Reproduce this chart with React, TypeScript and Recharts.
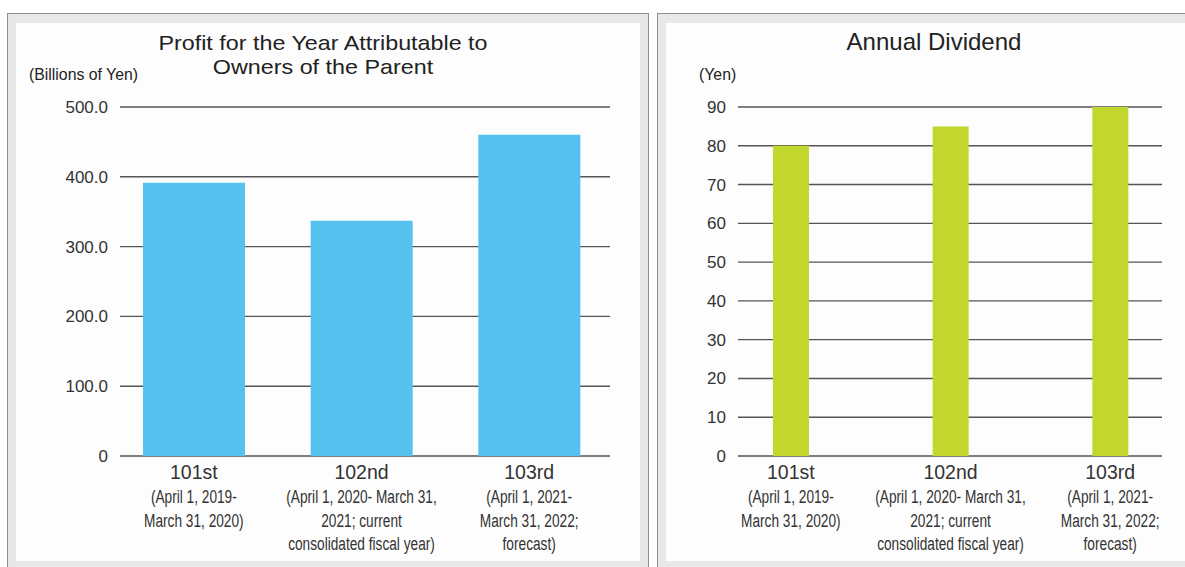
import { Bar, BarChart, CartesianGrid, XAxis, YAxis } from "recharts";

const categories = ["101st", "102nd", "103rd"];
const periodLines = [
  ["(April 1, 2019-", "March 31, 2020)"],
  ["(April 1, 2020- March 31,", "2021; current", "consolidated fiscal year)"],
  ["(April 1, 2021-", "March 31, 2022;", "forecast)"],
];
const profitValues = [391.6, 336.9, 460.2];
const dividendValues = [80, 85, 90];
const profitTicks = [0, 100, 200, 300, 400, 500];
const dividendTicks = [0, 10, 20, 30, 40, 50, 60, 70, 80, 90];

const profitData = categories.map((name, i) => ({ name, value: profitValues[i] }));
const dividendData = categories.map((name, i) => ({ name, value: dividendValues[i] }));

const SANS = "'Liberation Sans', Arial, Helvetica, sans-serif";
const TEXT = "#333";
const GRID = "#555";

// period text is set in a condensed face in the original; squeeze Liberation Sans
function CategoryTick(props: any) {
  const { x, y, payload } = props;
  const idx = categories.indexOf(payload.value);
  const lines = periodLines[idx] || [];
  return (
    <g transform={`translate(${x},${y})`}>
      <text textAnchor="middle" y={23} fill={TEXT} fontSize={19.5} fontFamily={SANS}>
        {payload.value}
      </text>
      {lines.map((l, i) => (
        <text
          key={i}
          textAnchor="middle"
          y={47.5 + i * 23.5}
          transform="scale(0.72,1)"
          fill={TEXT}
          fontSize={19}
          fontFamily={SANS}
        >
          {l}
        </text>
      ))}
    </g>
  );
}

function Panel({ left, width }: { left: number; width: number }) {
  return (
    <div
      style={{
        position: "absolute",
        left,
        top: 13,
        width,
        height: 600,
        boxSizing: "border-box",
        border: "1px solid #8e8e8e",
        background: "#e8e8e8",
      }}
    >
      <div
        style={{
          position: "absolute",
          left: 8,
          top: 9,
          width: width - 18,
          height: 538,
          background: "#fdfdfd",
        }}
      />
    </div>
  );
}

function Title({ cx, top, size, pitch, stretch, lines }: {
  cx: number; top: number; size: number; pitch: number; stretch: number; lines: string[];
}) {
  return (
    <div
      style={{
        position: "absolute",
        left: cx - 250,
        top,
        width: 500,
        textAlign: "center",
        fontSize: size,
        fontFamily: SANS,
        color: "#222",
        lineHeight: `${pitch}px`,
        whiteSpace: "nowrap",
        transform: `scaleX(${stretch})`,
        transformOrigin: "center",
      }}
    >
      {lines.map((l, i) => (
        <div key={i}>{l}</div>
      ))}
    </div>
  );
}

function Unit({ left, text }: { left: number; text: string }) {
  return (
    <div
      style={{
        position: "absolute",
        left,
        top: 64,
        fontSize: 17,
        fontFamily: SANS,
        color: "#222",
        lineHeight: "21px",
        whiteSpace: "nowrap",
        transform: "scaleX(0.93)",
        transformOrigin: "left center",
      }}
    >
      {text}
    </div>
  );
}

export default function App() {
  return (
    <div style={{ position: "absolute", left: 0, top: 0, width: 1185, height: 567, background: "#fff", overflow: "hidden" }}>
      <Panel left={7} width={642} />
      <Panel left={657} width={600} />

      <Title
        cx={323}
        top={31}
        size={21}
        pitch={23.5}
        stretch={1.11}
        lines={["Profit for the Year Attributable to", "Owners of the Parent"]}
      />
      <Unit left={29} text="(Billions of Yen)" />
      <Title cx={934} top={31} size={24} pitch={21} stretch={1} lines={["Annual Dividend"]} />
      <Unit left={699} text="(Yen)" />

      <div style={{ position: "absolute", left: 0, top: 0 }}>
        <BarChart width={648} height={567} data={profitData} margin={{ top: 107, right: 38, bottom: 11, left: 20 }}>
          <CartesianGrid horizontal vertical={false} stroke={GRID} strokeWidth={1.4} />
          <XAxis
            dataKey="name"
            axisLine={false}
            tickLine={false}
            tickSize={0}
            tickMargin={0}
            height={100}
            padding={{ left: -10, right: -3 }}
            interval={0}
            tick={<CategoryTick />}
          />
          <YAxis
            width={100}
            domain={[0, 500]}
            ticks={profitTicks}
            axisLine={false}
            tickLine={false}
            tickMargin={6}
            tick={{ fill: TEXT, fontSize: 17, fontFamily: SANS }}
            tickFormatter={(v: number) => (v === 0 ? "0" : v.toFixed(1))}
          />
          <Bar dataKey="value" fill="#56c1ef" barSize={102} isAnimationActive={false} />
        </BarChart>
      </div>

      <div style={{ position: "absolute", left: 648, top: 0 }}>
        <BarChart width={537} height={567} data={dividendData} margin={{ top: 107, right: 23, bottom: 11, left: 20 }}>
          <CartesianGrid horizontal vertical={false} stroke={GRID} strokeWidth={1.4} />
          <XAxis
            dataKey="name"
            axisLine={false}
            tickLine={false}
            tickSize={0}
            tickMargin={0}
            height={100}
            padding={{ left: -27, right: -28 }}
            interval={0}
            tick={<CategoryTick />}
          />
          <YAxis
            width={70}
            domain={[0, 90]}
            ticks={dividendTicks}
            axisLine={false}
            tickLine={false}
            tickMargin={6}
            tick={{ fill: TEXT, fontSize: 17, fontFamily: SANS }}
          />
          <Bar dataKey="value" fill="#c1d72e" barSize={36} isAnimationActive={false} />
        </BarChart>
      </div>
    </div>
  );
}
